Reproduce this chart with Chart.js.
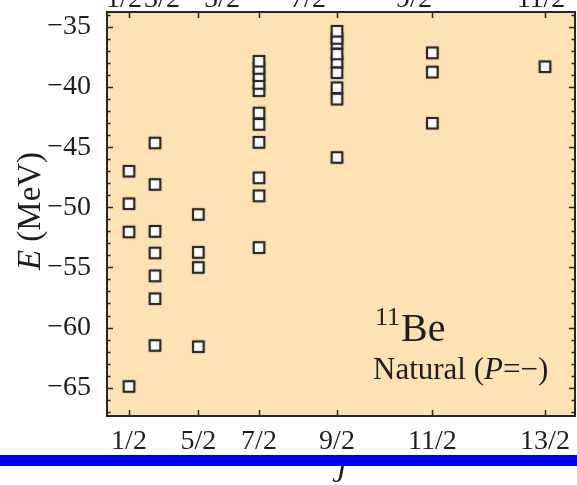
<!DOCTYPE html>
<html>
<head>
<meta charset="utf-8">
<script src="https://cdn.jsdelivr.net/npm/chart.js@4/dist/chart.umd.min.js"></script>
<style>
	html, body { margin: 0; padding: 0; background: #fff; }
	#chart { display: block; }
</style>
</head>
<body>
<canvas id="chart" width="577" height="485"></canvas>
<script>
// level energies (MeV) for each spin J, natural parity, lowest first
const spinLabels = ["1/2", "3/2", "5/2", "7/2", "9/2", "11/2", "13/2"];
const spinValues = [0.5, 1.5, 2.5, 3.5, 4.5, 5.5, 6.5];
const levels_1_2 = [-64.9, -52.05, -49.7, -47.0];
const levels_3_2 = [-61.5, -57.6, -55.7, -53.8, -52.0, -48.1, -44.65];
const levels_5_2 = [-61.6, -55.0, -53.75, -50.6];
const levels_7_2 = [-53.35, -49.05, -47.55, -44.6, -43.1, -42.15, -40.3, -39.7, -39.05, -38.45, -37.85];
const levels_9_2 = [-45.85, -41.0, -40.05, -38.8, -37.9, -37.25, -36.35, -35.95, -35.35];
const levels_11_2 = [-43.0, -38.75, -37.15];
const levels_13_2 = [-38.3];

// bottom axis shows only these spins
const tickSpins = ["1/2", "5/2", "7/2", "9/2", "11/2", "13/2"];
const yTicks = [-65, -60, -55, -50, -45, -40, -35];

// labels of the panel above, only their lower part fits
const upperLabels = ["1/2", "3/2", "5/2", "7/2", "9/2", "11/2"];
const upperLabelX = [124, 162, 222, 308, 414, 541];

const allLevels = [levels_1_2, levels_3_2, levels_5_2, levels_7_2, levels_9_2, levels_11_2, levels_13_2];

// x axis runs in J(J+1)
const jj = (j) => j * (j + 1);
const spinOf = (label) => spinValues[spinLabels.indexOf(label)];

const points = [];
allLevels.forEach((list, i) => {
	list.forEach((e) => points.push({ x: jj(spinValues[i]), y: e }));
});

const SERIF = "'Liberation Serif', 'DejaVu Serif', serif";
const INK = "#262626";
const PAPER = "#fde2b3";

const decor = {
	id: "decor",
	beforeDraw(chart) {
		const { ctx, chartArea: a } = chart;
		ctx.save();
		ctx.fillStyle = PAPER;
		ctx.fillRect(a.left, a.top, a.right - a.left, a.bottom - a.top);
		ctx.restore();
	},
	beforeDatasetsDraw(chart) {
		const ctx = chart.ctx;
		ctx.save();
		ctx.shadowColor = "rgba(0,0,0,0.3)";
		ctx.shadowBlur = 2;
	},
	afterDatasetsDraw(chart) {
		chart.ctx.restore();
	},
	afterDraw(chart) {
		const { ctx, chartArea: a, scales } = chart;
		const x = scales.x;
		const y = scales.y;
		ctx.save();

		// ticks on all four sides, pointing inward
		ctx.strokeStyle = INK;
		ctx.lineWidth = 1.5;
		ctx.beginPath();
		for (let v = -67; v <= -34; v++) {
			const py = Math.round(y.getPixelForValue(v)) + 0.5;
			const len = v % 5 === 0 ? 6 : 3.5;
			ctx.moveTo(a.left, py);
			ctx.lineTo(a.left + len, py);
			ctx.moveTo(a.right, py);
			ctx.lineTo(a.right - len, py);
		}
		tickSpins.forEach((s) => {
			const px = Math.round(x.getPixelForValue(jj(spinOf(s)))) + 0.5;
			ctx.moveTo(px, a.bottom);
			ctx.lineTo(px, a.bottom - 6);
			ctx.moveTo(px, a.top);
			ctx.lineTo(px, a.top + 6);
		});
		ctx.stroke();

		// frame
		ctx.lineWidth = 2;
		ctx.strokeRect(a.left, a.top, a.right - a.left, a.bottom - a.top);

		ctx.fillStyle = "#1e1e1e";
		ctx.textBaseline = "alphabetic";

		// nucleus label
		ctx.textAlign = "left";
		ctx.font = `26px ${SERIF}`;
		ctx.fillText("11", 375, 325);
		ctx.font = `40px ${SERIF}`;
		ctx.fillText("Be", 401, 341);

		let tx = 373;
		const ty = 379;
		ctx.font = `31px ${SERIF}`;
		ctx.fillText("Natural (", tx, ty);
		tx += ctx.measureText("Natural (").width;
		ctx.font = `italic 31px ${SERIF}`;
		ctx.fillText("P", tx, ty);
		tx += ctx.measureText("P").width;
		ctx.font = `31px ${SERIF}`;
		ctx.fillText("=\u2212)", tx, ty);

		// y axis title
		ctx.save();
		ctx.translate(40, 211);
		ctx.rotate(-Math.PI / 2);
		ctx.font = `italic 33px ${SERIF}`;
		const wE = ctx.measureText("E").width;
		ctx.font = `33px ${SERIF}`;
		const wRest = ctx.measureText(" (MeV)").width;
		const sx = -(wE + wRest) / 2;
		ctx.font = `italic 33px ${SERIF}`;
		ctx.fillText("E", sx, 0);
		ctx.font = `33px ${SERIF}`;
		ctx.fillText(" (MeV)", sx + wE, 0);
		ctx.restore();

		// upper panel labels, clipped by the top edge
		ctx.textAlign = "center";
		ctx.font = `28px ${SERIF}`;
		upperLabels.forEach((t, i) => ctx.fillText(t, upperLabelX[i], 7));

		// x axis title, then the blue rule across it
		ctx.font = `italic 30px ${SERIF}`;
		ctx.fillText("J", 339, 482);
		ctx.fillStyle = "#0000f0";
		ctx.fillRect(0, 455, 577, 11);

		ctx.restore();
	},
};

const ctx = document.getElementById("chart").getContext("2d");

window.chart = new Chart(ctx, {
	type: "scatter",
	data: {
		datasets: [
			{
				data: points,
				pointStyle: "rect",
				pointRadius: 7.5,
				pointBorderWidth: 2,
				pointBackgroundColor: "#ffffff",
				pointBorderColor: "#2a2a2a",
			},
		],
	},
	options: {
		responsive: false,
		animation: false,
		devicePixelRatio: 1,
		layout: { autoPadding: false, padding: { top: 12, right: 2, left: 0, bottom: 0 } },
		plugins: {
			legend: { display: false },
			tooltip: { enabled: false },
		},
		scales: {
			x: {
				type: "linear",
				min: -1.79,
				max: 52.21,
				grid: { display: false },
				border: { display: false },
				afterFit: (s) => {
					s.height = 69;
					s.paddingLeft = 0;
					s.paddingRight = 0;
				},
				afterBuildTicks: (s) => {
					s.ticks = tickSpins.map((t) => ({ value: jj(spinOf(t)) }));
				},
				ticks: {
					autoSkip: false,
					maxRotation: 0,
					padding: 1,
					color: "#1e1e1e",
					font: { family: SERIF, size: 28 },
					callback: (v) => {
						const i = spinValues.findIndex((j) => Math.abs(jj(j) - v) < 1e-6);
						return i >= 0 ? spinLabels[i] : "";
					},
				},
			},
			y: {
				type: "linear",
				min: -67.36,
				max: -33.75,
				grid: { display: false },
				border: { display: false },
				afterFit: (s) => {
					s.width = 107;
					s.paddingTop = 0;
					s.paddingBottom = 0;
				},
				afterBuildTicks: (s) => {
					s.ticks = yTicks.map((v) => ({ value: v }));
				},
				ticks: {
					padding: 8,
					color: "#1e1e1e",
					font: { family: SERIF, size: 28 },
					callback: (v) => (v < 0 ? "\u2212" + Math.abs(v) : String(v)),
				},
			},
		},
	},
	plugins: [decor],
});
</script>
</body>
</html>
